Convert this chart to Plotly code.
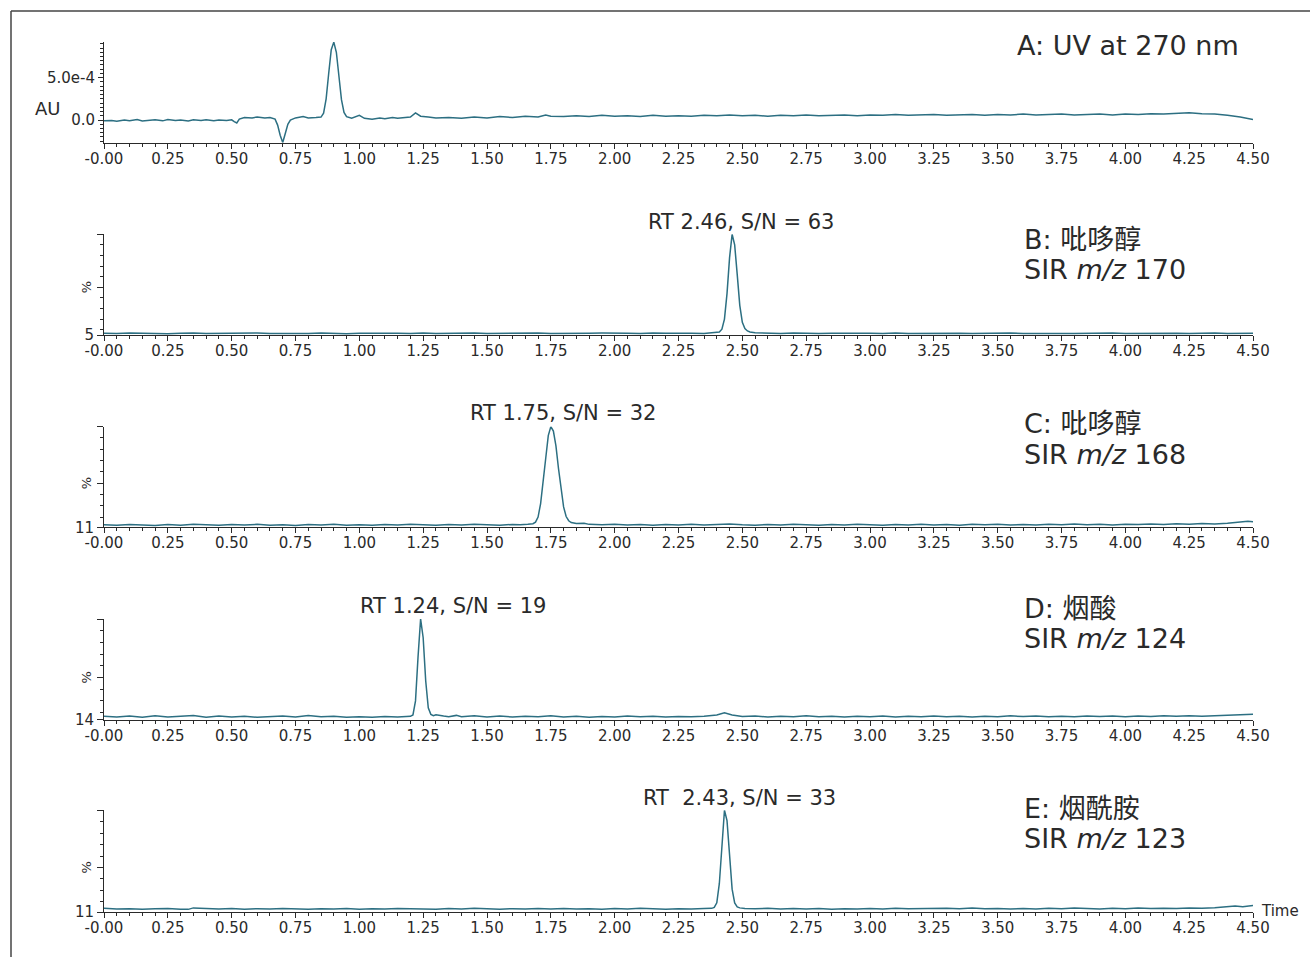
import plotly.graph_objects as go

# ---------------- data ----------------
# Panel A: UV trace at 270 nm (absorbance in units of 1e-4 AU)
uv_time = [0.00, 0.03, 0.05, 0.08, 0.10, 0.13, 0.15, 0.18, 0.20, 0.23, 0.25, 0.28, 0.30, 0.33, 0.35, 0.38,
           0.40, 0.43, 0.45, 0.48, 0.50, 0.51, 0.52, 0.53, 0.55, 0.58, 0.60, 0.63, 0.65, 0.67, 0.68, 0.69,
           0.70, 0.71, 0.72, 0.73, 0.75, 0.78, 0.80, 0.83, 0.85, 0.86, 0.87, 0.88, 0.89, 0.90, 0.91, 0.92,
           0.93, 0.94, 0.95, 0.97, 1.00, 1.02, 1.05, 1.08, 1.10, 1.13, 1.15, 1.18, 1.20, 1.22, 1.24, 1.27,
           1.30, 1.35, 1.40, 1.45, 1.50, 1.55, 1.60, 1.65, 1.70, 1.73, 1.75, 1.80, 1.85, 1.90, 1.95, 2.00,
           2.05, 2.10, 2.15, 2.20, 2.25, 2.30, 2.35, 2.40, 2.45, 2.50, 2.55, 2.60, 2.65, 2.70, 2.75, 2.80,
           2.85, 2.90, 2.95, 3.00, 3.05, 3.10, 3.15, 3.20, 3.25, 3.30, 3.35, 3.40, 3.45, 3.50, 3.55, 3.60,
           3.65, 3.70, 3.75, 3.80, 3.85, 3.90, 3.95, 4.00, 4.05, 4.10, 4.15, 4.20, 4.25, 4.30, 4.35, 4.40,
           4.45, 4.50]
uv_abs_e4 = [-0.10, -0.05, -0.15, 0.00, -0.08, 0.05, -0.12, -0.02, 0.02, -0.10, 0.05, -0.05, 0.00, -0.12, 0.02, -0.06,
             0.03, -0.10, 0.00, -0.05, 0.02, -0.20, -0.35, 0.10, 0.30, 0.25, 0.35, 0.25, 0.30, 0.10, -0.60, -1.80,
             -2.65, -1.60, -0.50, 0.00, 0.25, 0.40, 0.25, 0.30, 0.35, 0.80, 2.50, 5.50, 8.30, 9.20, 8.00, 5.20,
             2.40, 0.90, 0.40, 0.20, 0.55, 0.20, 0.10, 0.25, 0.15, 0.30, 0.20, 0.30, 0.35, 0.85, 0.45, 0.35,
             0.25, 0.30, 0.20, 0.35, 0.25, 0.40, 0.30, 0.45, 0.35, 0.60, 0.45, 0.40, 0.50, 0.40, 0.55, 0.45,
             0.50, 0.40, 0.55, 0.45, 0.50, 0.45, 0.55, 0.50, 0.60, 0.50, 0.55, 0.45, 0.55, 0.50, 0.60, 0.50,
             0.55, 0.60, 0.50, 0.60, 0.55, 0.65, 0.55, 0.60, 0.65, 0.55, 0.60, 0.65, 0.55, 0.65, 0.60, 0.70,
             0.60, 0.65, 0.70, 0.60, 0.65, 0.70, 0.60, 0.70, 0.65, 0.75, 0.70, 0.80, 0.85, 0.75, 0.70, 0.55,
             0.35, 0.05]

# Panel B: SIR m/z 170 (%)
sir170_time = [0.00, 0.05, 0.10, 0.15, 0.20, 0.25, 0.30, 0.35, 0.40, 0.45, 0.50, 0.55, 0.60, 0.65, 0.70, 0.75,
               0.80, 0.85, 0.90, 0.95, 1.00, 1.05, 1.10, 1.15, 1.20, 1.25, 1.30, 1.35, 1.40, 1.45, 1.50, 1.55,
               1.60, 1.65, 1.70, 1.75, 1.80, 1.85, 1.90, 1.95, 2.00, 2.05, 2.10, 2.15, 2.20, 2.25, 2.30, 2.35,
               2.38, 2.40, 2.41, 2.42, 2.43, 2.44, 2.45, 2.46, 2.47, 2.48, 2.49, 2.50, 2.51, 2.52, 2.53, 2.55,
               2.57, 2.60, 2.65, 2.70, 2.75, 2.80, 2.85, 2.90, 2.95, 3.00, 3.05, 3.10, 3.15, 3.20, 3.25, 3.30,
               3.35, 3.40, 3.45, 3.50, 3.55, 3.60, 3.65, 3.70, 3.75, 3.80, 3.85, 3.90, 3.95, 4.00, 4.05, 4.10,
               4.15, 4.20, 4.25, 4.30, 4.35, 4.40, 4.45, 4.50]
sir170_pct = [6.6, 6.3, 6.8, 6.4, 6.7, 6.2, 6.6, 6.9, 6.4, 6.7, 6.3, 6.8, 7.0, 6.5, 6.3, 6.7,
              6.4, 6.9, 6.5, 6.2, 6.6, 6.8, 6.3, 6.7, 6.5, 6.9, 6.4, 6.6, 6.3, 6.8, 6.5, 6.7,
              6.2, 6.6, 6.9, 6.4, 6.7, 6.3, 6.6, 6.8, 6.4, 6.7, 6.5, 7.0, 6.6, 6.3, 6.7, 6.5,
              6.8, 7.2, 7.8, 10.5, 20.0, 44.0, 78.0, 100.0, 90.0, 62.0, 33.0, 17.0, 11.0, 8.8, 7.8, 7.2,
              6.9, 6.7, 6.4, 6.8, 6.5, 6.3, 6.7, 6.9, 6.4, 6.6, 6.3, 6.8, 6.5, 6.7, 6.4, 6.9,
              6.6, 6.3, 6.7, 6.5, 6.8, 6.4, 6.6, 7.0, 6.5, 6.3, 6.7, 6.5, 6.8, 6.4, 6.6, 6.9,
              6.5, 6.7, 6.3, 6.6, 6.8, 6.5, 6.7, 6.6]

# Panel C: SIR m/z 168 (%)
sir168_time = [0.00, 0.05, 0.10, 0.15, 0.20, 0.25, 0.30, 0.35, 0.40, 0.45, 0.50, 0.55, 0.60, 0.65, 0.70, 0.75,
               0.80, 0.85, 0.90, 0.95, 1.00, 1.05, 1.10, 1.15, 1.20, 1.25, 1.30, 1.35, 1.40, 1.45, 1.50, 1.55,
               1.60, 1.63, 1.66, 1.68, 1.69, 1.70, 1.71, 1.72, 1.73, 1.74, 1.75, 1.76, 1.77, 1.78, 1.79, 1.80,
               1.81, 1.82, 1.83, 1.85, 1.88, 1.90, 1.95, 2.00, 2.05, 2.10, 2.15, 2.20, 2.25, 2.30, 2.35, 2.40,
               2.45, 2.50, 2.55, 2.60, 2.65, 2.70, 2.75, 2.80, 2.85, 2.90, 2.95, 3.00, 3.05, 3.10, 3.15, 3.20,
               3.25, 3.30, 3.35, 3.40, 3.45, 3.50, 3.55, 3.60, 3.65, 3.70, 3.75, 3.80, 3.85, 3.90, 3.95, 4.00,
               4.05, 4.10, 4.15, 4.20, 4.25, 4.30, 4.35, 4.40, 4.45, 4.48, 4.50]
sir168_pct = [13.2, 12.8, 13.5, 13.0, 12.7, 13.4, 12.9, 13.8, 13.1, 12.8, 13.5, 13.0, 13.6, 12.9, 13.3, 12.7,
              13.4, 13.0, 13.6, 12.9, 13.2, 12.8, 13.5, 13.1, 13.7, 13.0, 12.8, 13.4, 13.0, 13.6, 13.1, 12.9,
              13.5, 13.2, 13.6, 14.2, 15.5, 20.0, 32.0, 50.0, 72.0, 92.0, 100.0, 96.0, 83.0, 63.0, 44.0, 29.0,
              20.5, 16.8, 15.2, 14.3, 14.6, 13.6, 13.2, 13.8, 13.1, 13.5, 12.9, 13.4, 13.0, 13.7, 13.1, 13.4,
              13.9, 13.2, 12.9, 13.5, 13.0, 13.6, 13.1, 12.8, 13.4, 13.0, 13.7, 13.2, 12.9, 13.5, 13.1, 13.6,
              13.0, 13.4, 12.9, 13.6, 13.2, 13.8, 13.1, 13.5, 13.0, 13.7, 13.2, 13.9, 13.3, 13.6, 13.1, 13.8,
              13.4, 14.0, 13.5, 14.1, 13.7, 14.3, 14.0, 14.6, 15.6, 16.3, 15.8]

# Panel D: SIR m/z 124 (%)
sir124_time = [0.00, 0.05, 0.10, 0.15, 0.20, 0.25, 0.30, 0.35, 0.40, 0.45, 0.50, 0.55, 0.60, 0.65, 0.70, 0.75,
               0.80, 0.85, 0.90, 0.95, 1.00, 1.05, 1.10, 1.15, 1.18, 1.20, 1.21, 1.22, 1.23, 1.24, 1.25, 1.26,
               1.27, 1.28, 1.29, 1.30, 1.33, 1.35, 1.38, 1.40, 1.45, 1.50, 1.55, 1.60, 1.65, 1.70, 1.75, 1.80,
               1.85, 1.90, 1.95, 2.00, 2.05, 2.10, 2.15, 2.20, 2.25, 2.30, 2.35, 2.40, 2.43, 2.46, 2.50, 2.55,
               2.60, 2.65, 2.70, 2.75, 2.80, 2.85, 2.90, 2.95, 3.00, 3.05, 3.10, 3.15, 3.20, 3.25, 3.30, 3.35,
               3.40, 3.45, 3.50, 3.55, 3.60, 3.65, 3.70, 3.75, 3.80, 3.85, 3.90, 3.95, 4.00, 4.05, 4.10, 4.15,
               4.20, 4.25, 4.30, 4.35, 4.40, 4.45, 4.48, 4.50]
sir124_pct = [16.8, 16.2, 17.0, 16.0, 17.2, 16.3, 16.9, 17.6, 16.1, 17.1, 16.2, 16.8, 16.0, 16.6, 17.0, 16.3,
              17.4, 16.4, 16.9, 16.1, 16.5, 16.0, 16.6, 16.3, 16.5, 16.8, 18.0, 30.0, 68.0, 100.0, 84.0, 47.0,
              24.0, 18.5, 17.4, 18.2, 17.0, 16.4, 17.6, 16.5, 17.3, 16.3, 17.1, 16.2, 16.9, 16.4, 17.2, 16.3,
              16.8, 16.1, 16.7, 16.3, 17.0, 16.4, 16.9, 16.2, 16.7, 16.4, 16.9, 18.0, 19.8, 18.0, 16.6, 17.0,
              16.3, 16.9, 16.4, 17.2, 16.5, 16.9, 16.2, 16.8, 16.4, 17.0, 16.3, 16.8, 16.5, 17.1, 16.4, 16.9,
              16.3, 16.8, 16.5, 17.2, 16.6, 17.0, 16.4, 16.9, 16.5, 17.1, 16.6, 17.0, 16.5, 17.1, 16.7, 17.2,
              16.8, 17.3, 16.9, 17.4, 17.6, 18.2, 18.8, 18.5]

# Panel E: SIR m/z 123 (%)
sir123_time = [0.00, 0.05, 0.10, 0.15, 0.20, 0.25, 0.30, 0.33, 0.35, 0.40, 0.45, 0.50, 0.55, 0.60, 0.65, 0.70,
               0.75, 0.80, 0.85, 0.90, 0.95, 1.00, 1.05, 1.10, 1.15, 1.20, 1.25, 1.30, 1.35, 1.40, 1.45, 1.50,
               1.55, 1.60, 1.65, 1.70, 1.75, 1.80, 1.85, 1.90, 1.95, 2.00, 2.05, 2.10, 2.15, 2.20, 2.25, 2.30,
               2.35, 2.38, 2.39, 2.40, 2.41, 2.42, 2.43, 2.44, 2.45, 2.46, 2.47, 2.48, 2.49, 2.51, 2.55, 2.60,
               2.65, 2.70, 2.75, 2.80, 2.85, 2.90, 2.95, 3.00, 3.05, 3.10, 3.15, 3.20, 3.25, 3.30, 3.35, 3.40,
               3.45, 3.50, 3.55, 3.60, 3.65, 3.70, 3.75, 3.80, 3.85, 3.90, 3.95, 4.00, 4.05, 4.10, 4.15, 4.20,
               4.25, 4.30, 4.35, 4.40, 4.43, 4.46, 4.50]
sir123_pct = [14.2, 13.6, 13.9, 13.4, 13.8, 14.1, 13.5, 13.3, 14.6, 13.9, 13.6, 14.0, 13.5, 13.9, 13.6, 14.1,
              13.7, 13.4, 13.9, 13.6, 14.0, 13.5, 13.9, 13.6, 14.1, 13.7, 13.9, 13.5, 14.0, 13.7, 14.2, 13.8,
              13.5, 13.9, 13.6, 14.0, 13.7, 14.1, 13.6, 13.9, 13.5, 14.0, 13.7, 14.2, 13.8, 13.5, 13.9, 13.6,
              14.0, 14.2, 15.0, 19.0, 36.0, 70.0, 100.0, 91.0, 59.0, 31.0, 19.0, 15.5, 14.6, 14.1, 13.8, 14.2,
              13.6, 14.0, 13.7, 14.1, 13.5, 13.9, 13.6, 14.1, 13.7, 14.3, 13.8, 14.0, 13.6, 14.2, 13.9, 14.5,
              13.8, 14.1, 13.7, 14.0, 13.6, 14.2, 13.8, 14.4, 14.0, 13.7, 14.2, 13.9, 14.4, 14.0, 14.3, 14.1,
              14.6, 14.2, 14.8, 15.4, 16.2, 15.7, 16.6]

# axis minima of the SIR panels (shown as the bottom tick label)
sir_minima = [5, 11, 14, 11]

# x-axis tick positions and labels (minutes)
time_ticks = [0.00, 0.25, 0.50, 0.75, 1.00, 1.25, 1.50, 1.75, 2.00, 2.25, 2.50, 2.75, 3.00, 3.25, 3.50, 3.75,
              4.00, 4.25, 4.50]
time_labels = ["-0.00", "0.25", "0.50", "0.75", "1.00", "1.25", "1.50", "1.75", "2.00", "2.25", "2.50", "2.75",
               "3.00", "3.25", "3.50", "3.75", "4.00", "4.25", "4.50"]

# panel titles (first line, second line) and peak labels
panel_titles = [("A: UV at 270 nm", None),
                ("B: 吡哆醇", "SIR <i>m/z</i> 170"),
                ("C: 吡哆醇", "SIR <i>m/z</i> 168"),
                ("D: 烟酸", "SIR <i>m/z</i> 124"),
                ("E: 烟酰胺", "SIR <i>m/z</i> 123")]
peak_labels = ["RT 2.46, S/N = 63", "RT 1.75, S/N = 32", "RT 1.24, S/N = 19", "RT  2.43, S/N = 33"]

# ---------------- layout helpers ----------------
W, H = 1310, 957
LINE = "#2c6f82"
INK = "#2a2a2a"
FONT = "DejaVu Sans, Noto Sans CJK SC, sans-serif"


def px(x):
    return x / W


def py(y):
    return 1 - y / H


X_LEFT, X_RIGHT = 104, 1253
# (top, bottom) of each panel's plotting area in pixels
panel_px = [(41.7, 142.7), (234.3, 335.0), (426.6, 527.3), (619.0, 719.6), (810.3, 912.0)]

fig = go.Figure()

series = [(uv_time, [v * 1e-4 for v in uv_abs_e4]),
          (sir170_time, sir170_pct),
          (sir168_time, sir168_pct),
          (sir124_time, sir124_pct),
          (sir123_time, sir123_pct)]

for i, (t, v) in enumerate(series):
    sfx = "" if i == 0 else str(i + 1)
    fig.add_trace(go.Scatter(x=t, y=v, mode="lines", xaxis="x" + sfx, yaxis="y" + sfx,
                             line=dict(color=LINE, width=1.5), hoverinfo="skip", showlegend=False))

tickfont = dict(family=FONT, size=15, color=INK)
layout = dict(autosize=True, margin=dict(l=0, r=0, t=0, b=0, autoexpand=False),
              paper_bgcolor="white", plot_bgcolor="white", showlegend=False)

for i, (top, bot) in enumerate(panel_px):
    sfx = "" if i == 0 else str(i + 1)
    layout["xaxis" + sfx] = dict(
        domain=[px(X_LEFT), px(X_RIGHT)], range=[0, 4.5], anchor="y" + sfx,
        showline=True, linecolor=INK, linewidth=1, showgrid=False, zeroline=False,
        ticks="outside", ticklen=5, tickwidth=1, tickcolor=INK, ticklabelstandoff=-3,
        tickmode="array", tickvals=time_ticks, ticktext=time_labels, tickfont=tickfont,
        minor=dict(tickmode="linear", tick0=0, dtick=0.05, ticks="outside", ticklen=3,
                   tickwidth=1, tickcolor=INK, showgrid=False),
    )
    ydom = [py(bot), py(top)]
    if i == 0:
        layout["yaxis"] = dict(
            domain=ydom, range=[-2.68e-4, 9.25e-4], anchor="x",
            showline=True, linecolor=INK, linewidth=1, showgrid=False, zeroline=False,
            ticks="outside", ticklen=5, tickwidth=1, tickcolor=INK,
            tickmode="array", tickvals=[0, 5e-4], ticktext=["0.0", "5.0e-4"], tickfont=tickfont,
            minor=dict(tickmode="linear", tick0=0, dtick=5e-5, ticks="outside", ticklen=3,
                       tickwidth=1, tickcolor=INK, showgrid=False),
        )
    else:
        lo = sir_minima[i - 1]
        layout["yaxis" + sfx] = dict(
            domain=ydom, range=[lo, 100], anchor="x" + sfx,
            showline=True, linecolor=INK, linewidth=1, showgrid=False, zeroline=False,
            ticks="outside", ticklen=6, tickwidth=1, tickcolor=INK,
            tickmode="array", tickvals=[lo, 50, 100], ticktext=[str(lo), "", ""], tickfont=tickfont,
            minor=dict(tickmode="array", tickvals=[10, 20, 30, 40, 60, 70, 80, 90], ticks="outside",
                       ticklen=3, tickwidth=1, tickcolor=INK, showgrid=False),
        )

annotations = []
# axis unit labels
annotations.append(dict(text="AU", x=px(48), y=py(108), xref="paper", yref="paper", showarrow=False,
                        xanchor="center", yanchor="middle",
                        font=dict(family=FONT, size=18, color=INK)))
for i in range(1, 5):
    sfx = str(i + 1)
    annotations.append(dict(text="%", x=px(86), y=50, xref="paper", yref="y" + sfx, showarrow=False,
                            xanchor="center", yanchor="middle", textangle=-90,
                            font=dict(family=FONT, size=13, color=INK)))
annotations.append(dict(text="Time", x=px(1259), y=py(911), xref="paper", yref="paper",
                        xanchor="left", yanchor="middle",
                        showarrow=False, font=dict(family=FONT, size=15, color=INK)))

# panel titles: (left x, first-line centre y) in pixels, second line 30 px lower
title_pos = [(1015, 45), (1022, 240), (1022, 424), (1022, 608), (1022, 808)]
for (x0, yc), (line1, line2) in zip(title_pos, panel_titles):
    for k, txt in enumerate([line1, line2]):
        if txt is None:
            continue
        annotations.append(dict(text=txt, x=px(x0), y=py(yc + 30 * k), xref="paper", yref="paper",
                                xanchor="left", yanchor="middle", align="left", showarrow=False,
                                font=dict(family=FONT, size=27, color=INK)))

# peak labels (centre x, centre y in pixels)
peak_pos = [(741, 222), (563, 413), (453, 606), (739, 798)]
for (xc, yc), txt in zip(peak_pos, peak_labels):
    annotations.append(dict(text=txt, x=px(xc), y=py(yc), xref="paper", yref="paper",
                            xanchor="center", yanchor="middle", showarrow=False,
                            font=dict(family=FONT, size=21, color=INK)))

layout["annotations"] = annotations

# frame lines along the top and left edges
layout["shapes"] = [
    dict(type="line", xref="paper", yref="paper", x0=px(11), x1=1, y0=py(11), y1=py(11),
         line=dict(color="#444444", width=1.5)),
    dict(type="line", xref="paper", yref="paper", x0=px(11), x1=px(11), y0=py(11), y1=0,
         line=dict(color="#444444", width=1.5)),
]

fig.update_layout(**layout)

# let the figure fill the page exactly, with no body margin or scrollbars
fit_page = (
    "var s=document.documentElement.style;s.margin='0';s.padding='0';s.height='100%';s.overflow='hidden';"
    "var b=document.body.style;b.margin='0';b.padding='0';b.height='100%';b.overflow='hidden';"
    "var gd=document.getElementById('{plot_id}');gd.style.width='100vw';gd.style.height='100vh';"
    "Plotly.Plots.resize(gd);"
)
fig.write_html("out.html", default_width="100%", default_height="100%", post_script=fit_page)
